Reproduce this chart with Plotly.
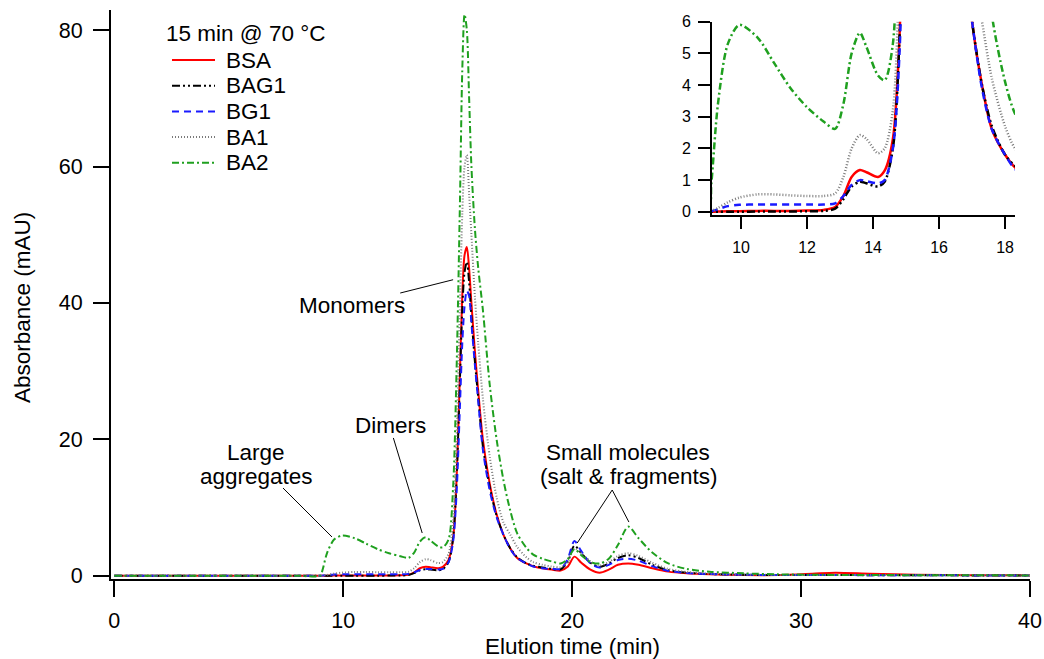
import plotly.graph_objects as go

# Elution time grid (min) shared by all chromatograms
time_min = [0, 2, 4, 6, 8, 9.0, 9.1, 9.3, 9.6, 9.95, 10.5, 11, 11.5, 12, 12.5, 12.85,
            13.1, 13.35, 13.6, 13.8, 14.15, 14.35, 14.6, 14.8, 14.95, 15.1, 15.2, 15.3,
            15.4, 15.5, 15.6, 15.75, 15.9, 16.1, 16.4, 16.7, 17.0, 17.3, 17.6, 18.0,
            18.3, 18.7, 19.1, 19.5, 19.8, 20.1, 20.4, 20.8, 21.2, 21.6, 22.0, 22.45,
            22.9, 23.5, 24.2, 25, 26, 27.5, 29, 30.5, 31.5, 33, 35, 37.5, 40]

# Absorbance (mAU)
bsa = [0, 0, 0, 0, 0, 0, 0, 0.01, 0.02, 0.02, 0.03, 0.03, 0.03, 0.04, 0.06, 0.15,
       0.5, 1.1, 1.32, 1.25, 1.1, 1.3, 2.3, 5.5, 14, 30, 41, 47,
       48.2, 45, 40, 33, 27, 20, 13.5, 9, 6.0, 4.0, 2.6, 1.8,
       1.4, 1.1, 0.9, 0.75, 1.3, 2.8, 1.9, 0.9, 0.45, 0.9, 1.6, 1.8,
       1.6, 1.1, 0.6, 0.35, 0.2, 0.1, 0.1, 0.3, 0.45, 0.3, 0.15, 0.08, 0.05]

bag1 = [0, 0, 0, 0, 0, 0, 0, 0, 0, 0, 0.01, 0.01, 0.01, 0.02, 0.03, 0.1,
        0.4, 0.8, 0.95, 0.9, 0.8, 0.95, 2.0, 5.5, 14, 29, 39, 44.5,
        46, 43, 38, 31.5, 26, 19, 13, 8.8, 6.0, 4.0, 2.7, 1.8,
        1.45, 1.2, 1.0, 0.95, 2.0, 4.4, 3.3, 1.9, 1.3, 1.8, 2.6, 3.0,
        2.6, 1.6, 0.8, 0.45, 0.25, 0.15, 0.1, 0.1, 0.1, 0.08, 0.06, 0.05, 0.04]

bg1 = [0, 0, 0, 0, 0, 0, 0.02, 0.08, 0.18, 0.22, 0.23, 0.23, 0.23, 0.23, 0.23, 0.27,
       0.5, 0.85, 1.0, 0.97, 0.9, 1.0, 2.0, 5.0, 12, 25, 34, 39.5,
       41.8, 41, 37, 31, 25.5, 18.5, 12.5, 8.6, 6.0, 3.9, 2.6, 1.8,
       1.35, 1.1, 1.0, 1.0, 2.4, 5.1, 3.6, 1.8, 1.2, 1.6, 2.3, 2.5,
       2.2, 1.4, 0.7, 0.4, 0.25, 0.15, 0.1, 0.1, 0.1, 0.08, 0.06, 0.05, 0.04]

ba1 = [0, 0, 0, 0, 0, 0, 0.02, 0.12, 0.3, 0.45, 0.55, 0.55, 0.52, 0.5, 0.5, 0.58,
       1.1, 2.0, 2.42, 2.3, 1.85, 2.0, 3.2, 8, 20, 40, 53, 60,
       61.7, 56, 50, 41, 34, 26, 17.5, 11.5, 7.8, 6.0, 4.2, 2.7,
       2.0, 1.6, 1.35, 1.25, 2.0, 4.0, 3.3, 2.1, 1.5, 2.0, 2.9, 3.3,
       2.9, 1.9, 1.0, 0.55, 0.3, 0.15, 0.12, 0.12, 0.12, 0.1, 0.08, 0.06, 0.05]

ba2 = [0, 0, 0, 0, 0, 0.02, 0.9, 3.4, 5.3, 5.9, 5.5, 4.7, 3.9, 3.3, 2.85, 2.62,
       3.4, 5.0, 5.65, 5.2, 4.3, 4.15, 5.3, 13, 30, 55, 74, 82.3,
       80, 70, 60, 51, 45, 39, 28, 20, 14, 9.5, 6.2, 4.1,
       3.1, 2.5, 2.1, 1.8, 2.4, 3.9, 3.0, 2.0, 1.8, 2.5, 4.5, 7.2,
       5.5, 3.4, 1.8, 1.0, 0.6, 0.35, 0.2, 0.15, 0.12, 0.1, 0.08, 0.06, 0.05]

series = [
    ("BSA", bsa, "#ff0000", "solid"),
    ("BAG1", bag1, "#000000", "8px,3px,2px,3px,2px,3px"),
    ("BG1", bg1, "#1a1aff", "7px,5px"),
    ("BA1", ba1, "#7a7a7a", "1px,2px"),
    ("BA2", ba2, "#1fa01f", "7px,3px,2px,3px"),
]
legend_title = "15 min @ 70 °C"

FONT = "Arial, Liberation Sans, sans-serif"
W, H = 1044, 659
TXT = 22.5


def px_x(p):
    return p / W


def px_y(p):
    return (H - p) / H


fig = go.Figure()

for name, vals, color, dash in series:
    # full chromatogram
    fig.add_trace(go.Scatter(
        x=time_min, y=vals, name=name, mode="lines", showlegend=False,
        line=dict(color=color, width=2, dash=dash, shape="spline", smoothing=0.8),
        xaxis="x", yaxis="y"))
    # zoomed view of the aggregate region
    fig.add_trace(go.Scatter(
        x=time_min, y=vals, name=name, mode="lines", showlegend=False,
        line=dict(color=color, width=2.5, dash=dash, shape="spline", smoothing=0.8),
        xaxis="x2", yaxis="y2"))

axis_common = dict(showline=True, linecolor="black", linewidth=2, ticks="outside",
                   tickcolor="black", tickwidth=2, showgrid=False, zeroline=False,
                   mirror=False, automargin=False)

fig.update_layout(
    width=W, height=H,
    margin=dict(l=0, r=0, t=0, b=0),
    paper_bgcolor="white", plot_bgcolor="rgba(0,0,0,0)",
    font=dict(family=FONT, color="black", size=21),
    showlegend=False,
    xaxis=dict(domain=[px_x(111), px_x(1030)], range=[-0.144, 40],
               tickvals=[0, 10, 20, 30, 40], ticklen=16, ticklabelstandoff=5,
               tickfont=dict(size=21.5), anchor="y", **axis_common),
    yaxis=dict(domain=[px_y(579), px_y(10)], range=[-0.48, 82.95],
               tickvals=[0, 20, 40, 60, 80], ticklen=16, ticklabelstandoff=6,
               tickfont=dict(size=21.5), anchor="x", **axis_common),
    xaxis2=dict(domain=[px_x(712), px_x(1015)], range=[9.12, 18.3],
                tickvals=[10, 12, 14, 16, 18], ticklen=12, ticklabelstandoff=5,
                tickfont=dict(size=16), anchor="y2", **axis_common),
    yaxis2=dict(domain=[px_y(215), px_y(21.7)], range=[-0.1, 6],
                tickvals=[0, 1, 2, 3, 4, 5, 6], ticklen=12, ticklabelstandoff=4,
                tickfont=dict(size=16), anchor="x2", **axis_common),
)


def paper_text(px, py, text, **kw):
    fig.add_annotation(x=px_x(px), y=px_y(py), xref="paper", yref="paper",
                       yanchor="middle", text=text, showarrow=False,
                       font=dict(size=TXT), **kw)


# Axis titles
paper_text(572, 646, "Elution time (min)", xanchor="center")
paper_text(22, 308, "Absorbance (mAU)", xanchor="center", textangle=-90)

# Legend: title, line samples and names
paper_text(164, 33, legend_title, xanchor="left")
for i, (name, vals, color, dash) in enumerate(series):
    row_y = 60 + i * 25.7
    fig.add_shape(type="line", xref="paper", yref="paper",
                  x0=px_x(172), x1=px_x(215), y0=px_y(row_y), y1=px_y(row_y),
                  line=dict(color=color, width=2, dash=dash))
    paper_text(224, row_y, name, xanchor="left")

# Peak labels (one annotation per text line) with leader lines
labels = [
    ("Monomers", 10.4, 39.6),
    ("Dimers", 12.05, 22.1),
    ("Large", 6.2, 18.1),
    ("aggregates", 6.2, 14.6),
    ("Small molecules", 22.45, 18.1),
    ("(salt &amp; fragments)", 22.5, 14.6),
]
for text, lx, ly in labels:
    fig.add_annotation(x=lx, y=ly, xref="x", yref="y", text=text, showarrow=False,
                       xanchor="center", yanchor="middle", font=dict(size=TXT))

leaders = [
    (12.49, 41.45, 14.8, 43.4),
    (12.19, 20.2, 13.45, 6.26),
    (7.37, 12.86, 9.51, 5.68),
    (21.75, 12.57, 20.22, 4.79),
    (21.75, 12.57, 22.48, 7.87),
]
for x0, y0, x1, y1 in leaders:
    fig.add_shape(type="line", xref="x", yref="y", x0=x0, y0=y0, x1=x1, y1=y1,
                  line=dict(color="black", width=1))

fig.write_html("out.html")
